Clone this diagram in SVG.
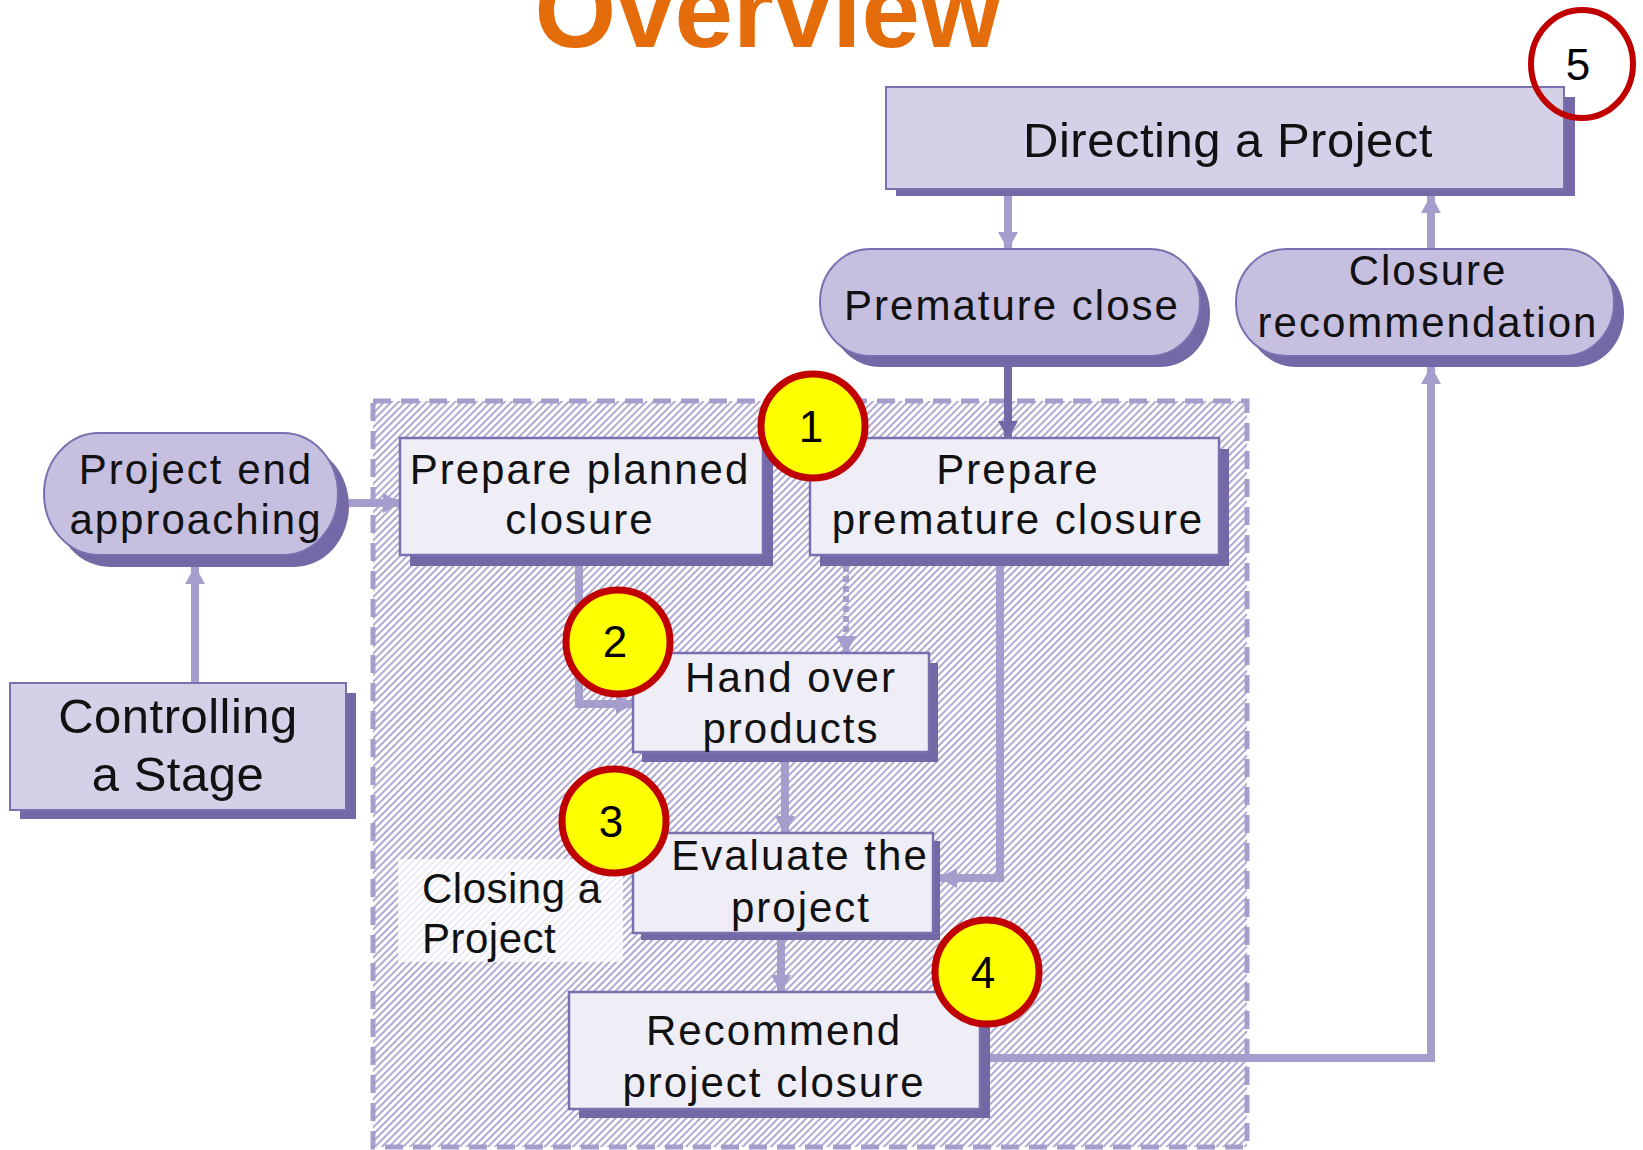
<svg xmlns="http://www.w3.org/2000/svg" width="1643" height="1150" viewBox="0 0 1643 1150">
<style>
text{font-family:"Liberation Sans",Arial,sans-serif;fill:#111;text-anchor:middle}
.t{font-size:42px;letter-spacing:2px}
.big{font-size:49px;letter-spacing:0.5px}
.num{font-size:44px;fill:#000}
.shadow{fill:#7468A6}
.dark{fill:#D4D0E7;stroke:#7A70B0;stroke-width:2}
.pill{fill:#C6BFDF;stroke:#7A70B0;stroke-width:2}
.light{fill:#EFEEF7;stroke:#7A70B0;stroke-width:2.5}
.conn{fill:none;stroke:#A59DCB;stroke-width:8}
.badge{fill:#FFFF00;stroke:#C00000;stroke-width:7}
</style>
<defs>
<pattern id="hatch" patternUnits="userSpaceOnUse" width="5" height="5" patternTransform="rotate(45)">
<rect width="5" height="5" fill="#FFFFFF"/>
<line x1="1" y1="0" x2="1" y2="5" stroke="#A29BCA" stroke-width="1.7"/>
</pattern>
<marker id="ah" markerUnits="userSpaceOnUse" markerWidth="18" markerHeight="20" refX="17" refY="10" orient="auto">
<path d="M0,0 L18,10 L0,20 z" fill="#A59DCB"/>
</marker>
<marker id="ahd" markerUnits="userSpaceOnUse" markerWidth="18" markerHeight="20" refX="17" refY="10" orient="auto">
<path d="M0,0 L18,10 L0,20 z" fill="#7468A6"/>
</marker>
</defs>
<rect width="1643" height="1150" fill="#FFFFFF"/>

<text x="768" y="47" style="font-size:105px;font-weight:bold;fill:#E46C0A">Overview</text>

<g id="closing-region">
<rect x="373" y="401" width="874" height="746" fill="url(#hatch)" stroke="#A59DCB" stroke-width="5" stroke-dasharray="18 10"/>
<rect x="398" y="859" width="225" height="103" fill="#FFFFFF" opacity="0.75"/>
<text x="422" y="903" class="t" style="text-anchor:start;letter-spacing:0.5px">Closing a</text>
<text x="422" y="953" class="t" style="text-anchor:start;letter-spacing:0.5px">Project</text>
</g>

<g id="connectors">
<path class="conn" d="M1008,196 L1008,249" marker-end="url(#ah)"/>
<path class="conn" d="M1431,249 L1431,196" marker-end="url(#ah)"/>
<path class="conn" d="M1008,367 L1008,438" stroke="#7468A6" style="stroke:#7468A6" marker-end="url(#ahd)"/>
<path class="conn" d="M990,1058 L1431,1058 L1431,367" marker-end="url(#ah)"/>
<path class="conn" d="M349,503 L400,503" marker-end="url(#ah)"/>
<path class="conn" d="M195,683 L195,567" marker-end="url(#ah)"/>
<path class="conn" d="M579,566 L579,704 L633,704" marker-end="url(#ah)"/>
<path class="conn" d="M846,566 L846,653" stroke-dasharray="6 4" style="stroke-width:6" marker-end="url(#ah)"/>
<path class="conn" d="M1000,566 L1000,878 L940,878" marker-end="url(#ah)"/>
<path class="conn" d="M785,762 L785,833" marker-end="url(#ah)"/>
<path class="conn" d="M781,940 L781,992" marker-end="url(#ah)"/>
</g>

<g id="directing">
<rect class="shadow" x="896" y="97" width="679" height="99"/>
<rect class="dark" x="886" y="87" width="678" height="102"/>
<text x="1228" y="157" class="big">Directing a Project</text>
</g>

<g id="premature-close">
<rect class="shadow" x="830" y="260" width="380" height="107" rx="50" ry="53"/>
<rect class="pill" x="820" y="249" width="380" height="107" rx="50" ry="53"/>
<text x="1012" y="320" class="t">Premature close</text>
</g>

<g id="closure-recommendation">
<rect class="shadow" x="1246" y="260" width="378" height="107" rx="50" ry="53"/>
<rect class="pill" x="1236" y="249" width="378" height="107" rx="50" ry="53"/>
<text x="1428" y="285" class="t">Closure</text>
<text x="1428" y="337" class="t">recommendation</text>
</g>

<g id="project-end">
<rect class="shadow" x="55" y="445" width="294" height="122" rx="55" ry="61"/>
<rect class="pill" x="44" y="433" width="294" height="122" rx="55" ry="61"/>
<text x="196" y="484" class="t">Project end</text>
<text x="196" y="534" class="t">approaching</text>
</g>

<g id="controlling">
<rect class="shadow" x="20" y="693" width="336" height="126"/>
<rect class="dark" x="10" y="683" width="336" height="127"/>
<text x="178" y="733" class="big">Controlling</text>
<text x="178" y="791" class="big">a Stage</text>
</g>

<g id="prepare-planned">
<rect class="shadow" x="410" y="449" width="363" height="117"/>
<rect class="light" x="400" y="438" width="363" height="117"/>
<text x="580" y="484" class="t">Prepare planned</text>
<text x="580" y="534" class="t">closure</text>
</g>

<g id="prepare-premature">
<rect class="shadow" x="820" y="449" width="409" height="117"/>
<rect class="light" x="810" y="438" width="409" height="117"/>
<text x="1018" y="484" class="t">Prepare</text>
<text x="1018" y="534" class="t">premature closure</text>
</g>

<g id="hand-over">
<rect class="shadow" x="642" y="663" width="296" height="99"/>
<rect class="light" x="633" y="653" width="296" height="99"/>
<text x="791" y="692" class="t">Hand over</text>
<text x="791" y="743" class="t">products</text>
</g>

<g id="evaluate">
<rect class="shadow" x="641" y="841" width="299" height="99"/>
<rect class="light" x="633" y="833" width="300" height="100"/>
<text x="800" y="870" class="t">Evaluate the</text>
<text x="801" y="922" class="t">project</text>
</g>

<g id="recommend">
<rect class="shadow" x="579" y="1002" width="411" height="116"/>
<rect class="light" x="569" y="992" width="411" height="117"/>
<text x="774" y="1045" class="t">Recommend</text>
<text x="774" y="1097" class="t">project closure</text>
</g>

<g id="badge-1">
<circle class="badge" cx="813" cy="426" r="52"/>
<text x="811" y="442" class="num">1</text>
</g>
<g id="badge-2">
<circle class="badge" cx="618" cy="642" r="52"/>
<text x="615" y="657" class="num">2</text>
</g>
<g id="badge-3">
<circle class="badge" cx="614" cy="821" r="52"/>
<text x="611" y="837" class="num">3</text>
</g>
<g id="badge-4">
<circle class="badge" cx="987" cy="972" r="52"/>
<text x="983" y="988" class="num">4</text>
</g>
<g id="badge-5">
<ellipse cx="1582" cy="64" rx="51" ry="54" fill="none" stroke="#C00000" stroke-width="6"/>
<text x="1578" y="80" class="num">5</text>
</g>
</svg>
